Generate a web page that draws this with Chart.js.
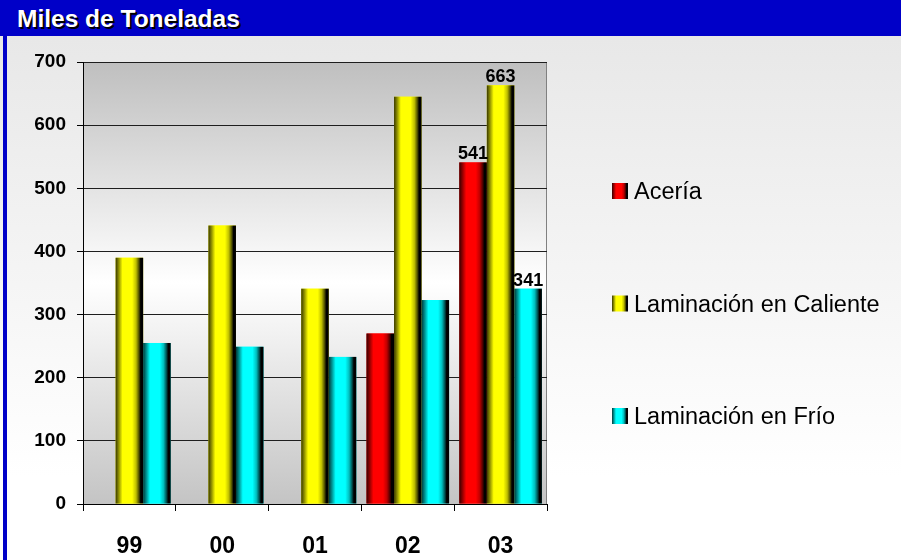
<!DOCTYPE html>
<html lang="es">
<head>
<meta charset="utf-8">
<title>Miles de Toneladas</title>
<script src="https://cdn.jsdelivr.net/npm/chart.js@4.4.1/dist/chart.umd.min.js"></script>
<style>
  html, body { margin: 0; padding: 0; background: #ffffff; }
  #frame {
    position: relative; width: 901px; height: 560px; overflow: hidden;
    background: linear-gradient(#e6e6e6 0%, #ffffff 85%);
    font-family: 'Liberation Sans', Arial, sans-serif;
  }
  #titlebar {
    position: absolute; left: 0; top: 0; width: 901px; height: 36px;
    background: #0000c8;
  }
  #titlebar span {
    position: absolute; left: 17px; top: 1px; line-height: 36px;
    font-weight: bold; font-size: 24.5px; color: #ffffff;
    text-shadow: 2px 2px 0 #000000;
  }
  #leftbar {
    position: absolute; left: 3px; top: 36px; width: 4px; height: 524px;
    background: #0000c8;
  }
  #plot { position: absolute; left: 8px; top: 36px; width: 893px; height: 524px; }
</style>
</head>
<body>
<div id="frame">
  <div id="titlebar"><span>Miles de Toneladas</span></div>
  <div id="leftbar"></div>
  <div id="plot"><canvas id="chart"></canvas></div>
</div>
<script>
// Production by year (thousand tonnes)
const categories = ['99', '00', '01', '02', '03'];
const seriesNames = ['Acería', 'Laminación en Caliente', 'Laminación en Frío'];
const aceria = [null, null, null, 270, 541];
const laminacionCaliente = [390, 441, 341, 645, 663];
const laminacionFrio = [255, 249, 233, 323, 341];
const yTicks = [0, 100, 200, 300, 400, 500, 600, 700];
// categories whose bars carry a value label
const labeledCategories = ['03'];

const FONT = "'Liberation Sans', Arial, sans-serif";

// flat base colours and cylinder-like horizontal shading per series
const baseColors = ['#ff0000', '#ffff00', '#00ffff'];
function shadeStops(r, g, b) {
  const c = (k) => `rgb(${Math.round(r * k)},${Math.round(g * k)},${Math.round(b * k)})`;
  return [
    [0.00, c(0.22)], [0.12, c(0.58)], [0.25, c(1.0)], [0.60, c(1.0)],
    [0.74, c(0.75)], [0.85, c(0.30)], [0.91, c(0.0)], [1.00, c(0.0)]
  ];
}
const shades = [shadeStops(255, 0, 0), shadeStops(255, 255, 0), shadeStops(0, 255, 255)];

function hGradient(ctx, left, width, stops) {
  const g = ctx.createLinearGradient(left, 0, left + width, 0);
  stops.forEach(([o, c]) => g.addColorStop(o, c));
  return g;
}

// plot area background: grey at the edges, white in the middle
const plotBackground = {
  id: 'plotBackground',
  beforeDraw(chart) {
    const { ctx, chartArea: a } = chart;
    const g = ctx.createLinearGradient(0, a.top, 0, a.bottom);
    g.addColorStop(0, '#bfbfbf');
    g.addColorStop(0.5, '#ffffff');
    g.addColorStop(1, '#c4c4c4');
    ctx.save();
    ctx.fillStyle = g;
    ctx.fillRect(a.left, a.top, a.right - a.left, a.bottom - a.top);
    ctx.strokeStyle = '#808080';
    ctx.lineWidth = 1;
    ctx.beginPath();
    ctx.moveTo(Math.round(a.right) - 0.5, a.top);
    ctx.lineTo(Math.round(a.right) - 0.5, a.bottom);
    ctx.stroke();
    ctx.restore();
  }
};

// repaint each bar with its shaded fill, then write value labels
const shadedBars = {
  id: 'shadedBars',
  afterDatasetsDraw(chart) {
    const { ctx } = chart;
    ctx.save();
    chart.data.datasets.forEach((ds, di) => {
      const meta = chart.getDatasetMeta(di);
      meta.data.forEach((el, i) => {
        if (ds.data[i] == null) return;
        const { x, y, base, width } = el.getProps(['x', 'y', 'base', 'width'], true);
        const left = x - width / 2;
        ctx.fillStyle = hGradient(ctx, left, width, shades[di]);
        ctx.fillRect(left, y, width, base - y);
      });
    });
    ctx.fillStyle = '#000000';
    ctx.font = `bold 18px ${FONT}`;
    ctx.textAlign = 'center';
    ctx.textBaseline = 'alphabetic';
    chart.data.datasets.forEach((ds, di) => {
      const meta = chart.getDatasetMeta(di);
      chart.data.labels.forEach((lab, i) => {
        if (!labeledCategories.includes(lab) || ds.data[i] == null) return;
        const { x, y } = meta.data[i].getProps(['x', 'y'], true);
        ctx.fillText(String(ds.data[i]), x, y - 3);
      });
    });
    ctx.restore();
  }
};

// series key to the right of the plot
const sideLegend = {
  id: 'sideLegend',
  afterDraw(chart) {
    const { ctx, chartArea: a } = chart;
    const boxX = a.right + 65;
    const firstY = a.top + 129;
    const step = 112.5;
    ctx.save();
    ctx.font = `23.5px ${FONT}`;
    ctx.textAlign = 'left';
    ctx.textBaseline = 'alphabetic';
    chart.data.datasets.forEach((ds, di) => {
      const cy = firstY + di * step;
      ctx.fillStyle = hGradient(ctx, boxX, 16, shades[di]);
      ctx.fillRect(boxX, cy - 8, 16, 16);
      ctx.fillStyle = '#000000';
      ctx.fillText(ds.label, boxX + 22, cy + 8.3);
    });
    ctx.restore();
  }
};

const seriesValues = [aceria, laminacionCaliente, laminacionFrio];

new Chart(document.getElementById('chart'), {
  type: 'bar',
  data: {
    labels: categories,
    datasets: seriesNames.map((name, i) => ({
      label: name,
      data: seriesValues[i],
      backgroundColor: baseColors[i],
      borderWidth: 0,
      categoryPercentage: 0.89,
      barPercentage: 1.0
    }))
  },
  options: {
    responsive: true,
    maintainAspectRatio: false,
    animation: false,
    events: [],
    layout: { padding: { top: 26, right: 354, left: 0, bottom: 0 } },
    plugins: {
      legend: { display: false },
      tooltip: { enabled: false },
      title: { display: false }
    },
    scales: {
      x: {
        grid: {
          offset: true, drawOnChartArea: false, drawTicks: true,
          tickLength: 7, color: '#000000', tickColor: '#000000', lineWidth: 1
        },
        border: { display: true, color: '#000000', width: 1 },
        ticks: {
          color: '#000000', padding: 22,
          font: { family: FONT, size: 23, weight: 'bold' }
        },
        afterFit(scale) { scale.height = 56; }
      },
      y: {
        min: yTicks[0],
        max: yTicks[yTicks.length - 1],
        afterBuildTicks(scale) { scale.ticks = yTicks.map(v => ({ value: v })); },
        grid: {
          color: '#1e1e1e', tickColor: '#000000', tickLength: 6, lineWidth: 1
        },
        border: { display: true, color: '#000000', width: 1 },
        ticks: {
          color: '#000000', padding: 11,
          font: { family: FONT, size: 19, weight: 'bold' }
        },
        afterFit(scale) { scale.width = 75; }
      }
    }
  },
  plugins: [plotBackground, shadedBars, sideLegend]
});
</script>
</body>
</html>
